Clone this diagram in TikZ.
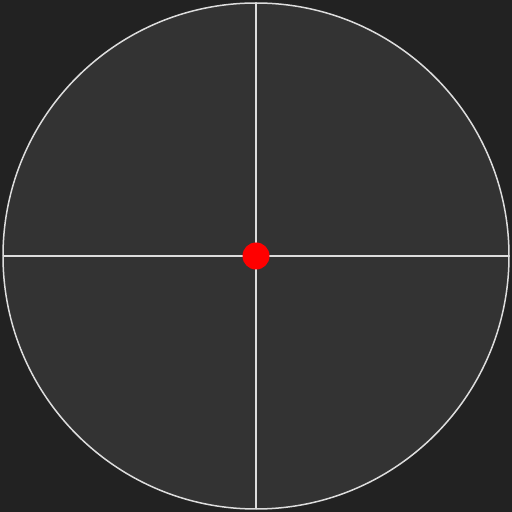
\documentclass[tikz,border=0pt]{standalone}
\definecolor{bgc}{RGB}{34,34,34}
\definecolor{discc}{RGB}{51,51,51}
\definecolor{linec}{RGB}{221,221,221}
\definecolor{dotc}{RGB}{255,0,0}
\begin{document}
\begin{tikzpicture}[x=1pt,y=1pt,
  rim/.style={draw=linec,line width=1.5pt,fill=discc},
  axisline/.style={draw=linec,line width=1.5pt},
  centerdot/.style={fill=dotc}]
\fill[bgc] (0,0) rectangle (512,512);
\useasboundingbox (0,0) rectangle (512,512);
\coordinate (c) at (256,256);
\coordinate (l) at (3,256);
\coordinate (r) at (509,256);
\coordinate (t) at (256,509);
\coordinate (b) at (256,3);
\path[rim] (c) circle (253);
\draw[axisline] (l) -- (r);
\draw[axisline] (t) -- (b);
\path[centerdot] (c) circle (13.5);
\end{tikzpicture}
\end{document}
